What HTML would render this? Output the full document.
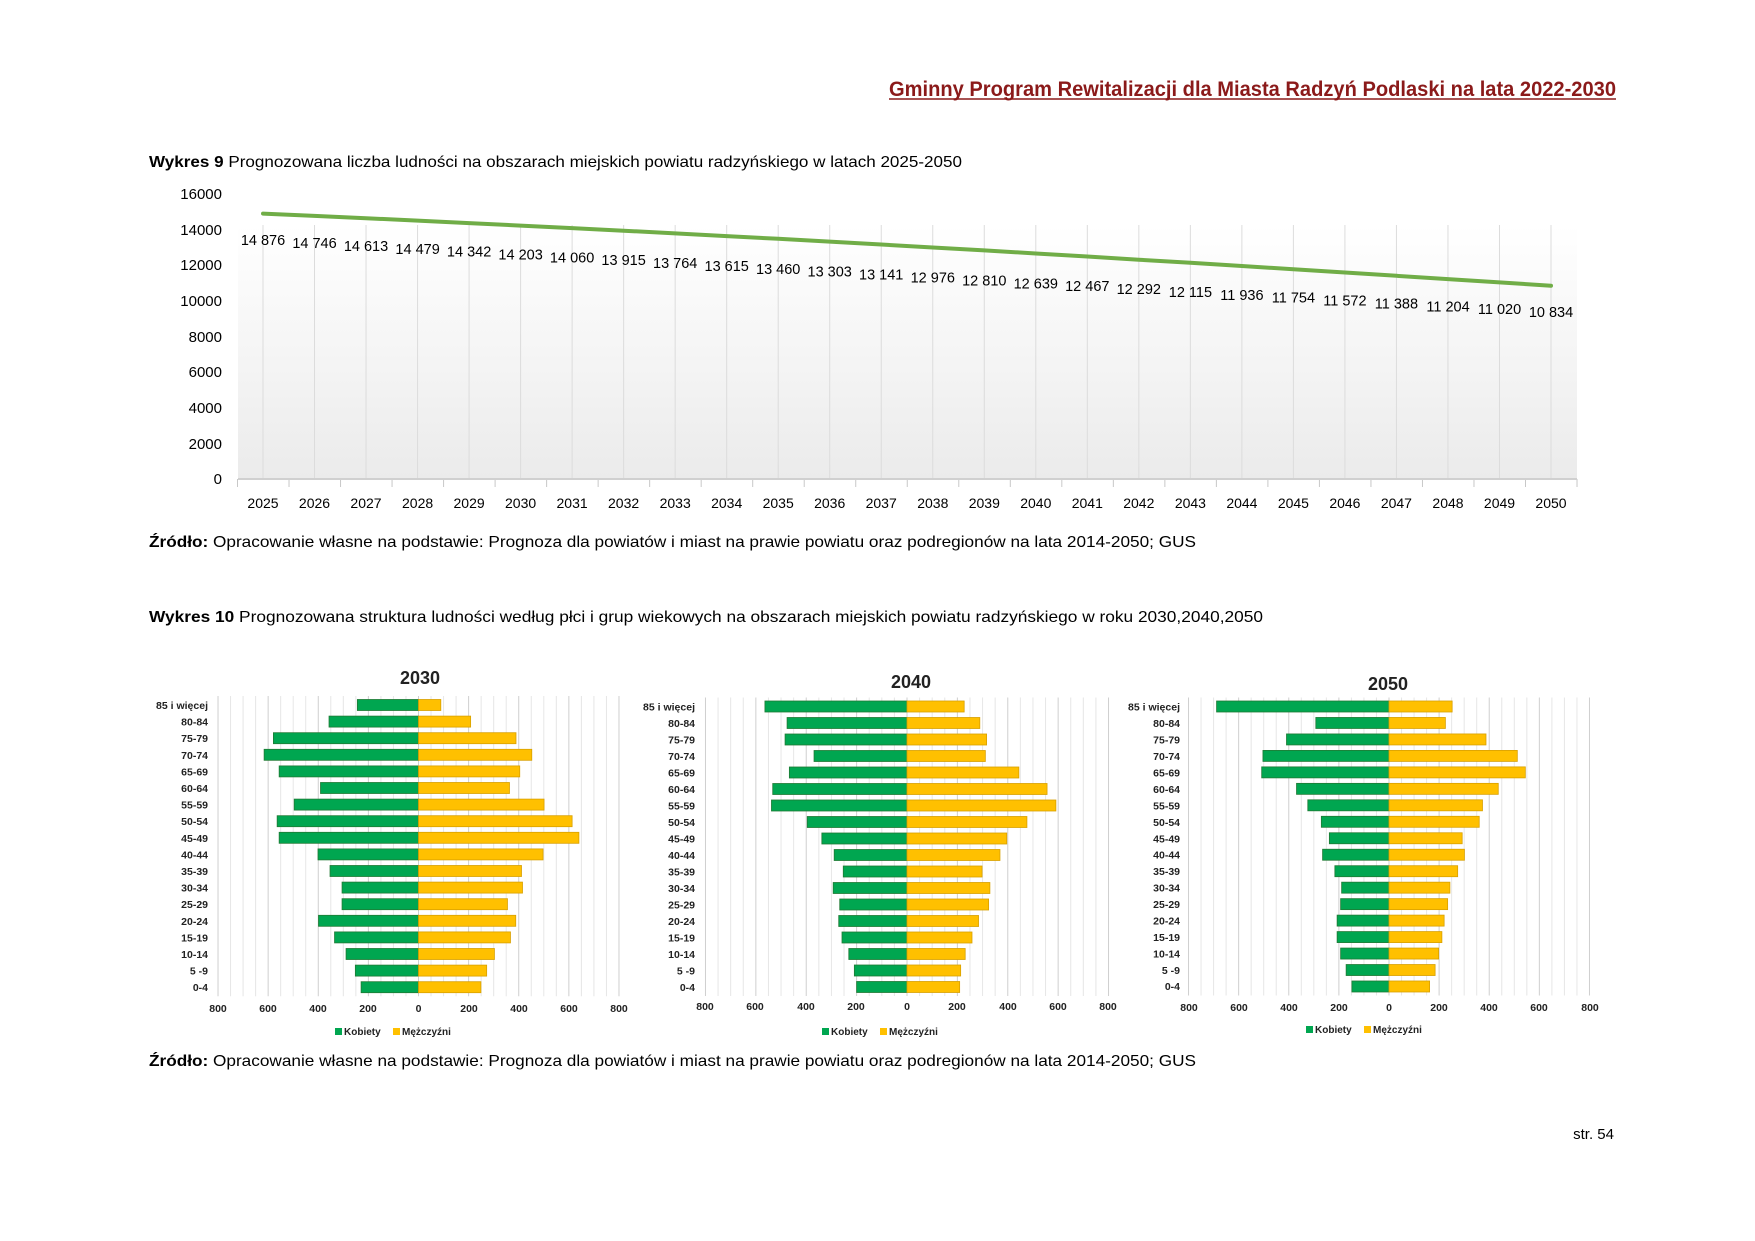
<!DOCTYPE html>
<html><head><meta charset="utf-8"><style>
html,body{margin:0;padding:0;background:#fff}
svg{display:block}
</style></head><body>
<svg id="s" width="1755" height="1241" viewBox="0 0 1755 1241" xmlns="http://www.w3.org/2000/svg" font-family="Liberation Sans, sans-serif">
<defs>
<linearGradient id="bg" x1="0" y1="0" x2="0" y2="1">
<stop offset="0" stop-color="#ffffff"/><stop offset="1" stop-color="#ebebeb"/>
</linearGradient>
</defs>
<text x="889" y="96" font-size="21" font-weight="bold" fill="#8b1a1a" textLength="727" lengthAdjust="spacingAndGlyphs">Gminny Program Rewitalizacji dla Miasta Radzyń Podlaski na lata 2022-2030</text>
<line x1="889" y1="99" x2="1616" y2="99" stroke="#8b1a1a" stroke-width="1.5"/>
<text x="149" y="167" font-size="16" textLength="813" lengthAdjust="spacingAndGlyphs"><tspan font-weight="bold">Wykres 9</tspan> Prognozowana liczba ludności na obszarach miejskich powiatu radzyńskiego w latach 2025-2050</text>

<rect x="238" y="225" width="1339" height="254" fill="url(#bg)"/>
<g id="vg" stroke="#dcdcdc" stroke-width="1"></g>
<line x1="238" y1="479" x2="1577" y2="479" stroke="#d0d0d0" stroke-width="2"/>
<g font-size="15" text-anchor="end">
<text x="222" y="199">16000</text><text x="222" y="235">14000</text><text x="222" y="270">12000</text><text x="222" y="306">10000</text><text x="222" y="342">8000</text><text x="222" y="377">6000</text><text x="222" y="413">4000</text><text x="222" y="449">2000</text><text x="222" y="484">0</text>
</g>
<g font-size="14" text-anchor="middle">
<text x="263" y="508">2025</text><text x="314.5" y="508">2026</text><text x="366" y="508">2027</text><text x="417.6" y="508">2028</text><text x="469.1" y="508">2029</text><text x="520.6" y="508">2030</text><text x="572.1" y="508">2031</text><text x="623.6" y="508">2032</text><text x="675.2" y="508">2033</text><text x="726.7" y="508">2034</text><text x="778.2" y="508">2035</text><text x="829.7" y="508">2036</text><text x="881.2" y="508">2037</text><text x="932.8" y="508">2038</text><text x="984.3" y="508">2039</text><text x="1035.8" y="508">2040</text><text x="1087.3" y="508">2041</text><text x="1138.8" y="508">2042</text><text x="1190.4" y="508">2043</text><text x="1241.9" y="508">2044</text><text x="1293.4" y="508">2045</text><text x="1344.9" y="508">2046</text><text x="1396.4" y="508">2047</text><text x="1448" y="508">2048</text><text x="1499.5" y="508">2049</text><text x="1551" y="508">2050</text>
</g>
<polyline id="ln" fill="none" stroke="#70ad47" stroke-width="4" stroke-linecap="round"/>
<g font-size="14.5" text-anchor="middle">
<text x="263" y="245">14 876</text><text x="314.5" y="248">14 746</text><text x="366" y="251">14 613</text><text x="417.6" y="254">14 479</text><text x="469.1" y="256.5">14 342</text><text x="520.6" y="259.4">14 203</text><text x="572.1" y="262.3">14 060</text><text x="623.6" y="265.2">13 915</text><text x="675.2" y="268.1">13 764</text><text x="726.7" y="271">13 615</text><text x="778.2" y="273.9">13 460</text><text x="829.7" y="276.7">13 303</text><text x="881.2" y="279.6">13 141</text><text x="932.8" y="282.5">12 976</text><text x="984.3" y="285.4">12 810</text><text x="1035.8" y="288.3">12 639</text><text x="1087.3" y="291.2">12 467</text><text x="1138.8" y="294">12 292</text><text x="1190.4" y="296.9">12 115</text><text x="1241.9" y="299.8">11 936</text><text x="1293.4" y="302.7">11 754</text><text x="1344.9" y="305.6">11 572</text><text x="1396.4" y="308.5">11 388</text><text x="1448" y="311.4">11 204</text><text x="1499.5" y="314.2">11 020</text><text x="1551" y="317.1">10 834</text>
</g>
<text x="149" y="547" font-size="16" textLength="1047" lengthAdjust="spacingAndGlyphs"><tspan font-weight="bold">Źródło:</tspan> Opracowanie własne na podstawie: Prognoza dla powiatów i miast na prawie powiatu oraz podregionów na lata 2014-2050; GUS</text>
<text x="149" y="622" font-size="16" textLength="1114" lengthAdjust="spacingAndGlyphs"><tspan font-weight="bold">Wykres 10</tspan> Prognozowana struktura ludności według płci i grup wiekowych na obszarach miejskich  powiatu radzyńskiego w roku 2030,2040,2050</text>

<g id="pyr"></g>

<g font-weight="bold" text-anchor="middle" font-size="18" fill="#222">
<text x="420" y="684">2030</text><text x="911" y="688">2040</text><text x="1388" y="690">2050</text>
</g>
<g font-size="10.5" font-weight="bold" text-anchor="end" fill="#222">
<text x="208" y="709">85 i więcej</text><text x="208" y="725.6">80-84</text><text x="208" y="742.2">75-79</text><text x="208" y="758.8">70-74</text><text x="208" y="775.4">65-69</text><text x="208" y="792">60-64</text><text x="208" y="808.6">55-59</text><text x="208" y="825.2">50-54</text><text x="208" y="841.8">45-49</text><text x="208" y="858.4">40-44</text><text x="208" y="875">35-39</text><text x="208" y="891.6">30-34</text><text x="208" y="908.2">25-29</text><text x="208" y="924.8">20-24</text><text x="208" y="941.4">15-19</text><text x="208" y="958">10-14</text><text x="208" y="974.6">5 -9</text><text x="208" y="991">0-4</text>
</g>
<g font-size="10.5" font-weight="bold" text-anchor="end" fill="#222">
<text x="695" y="710.5">85 i więcej</text><text x="695" y="727">80-84</text><text x="695" y="743.5">75-79</text><text x="695" y="760">70-74</text><text x="695" y="776.5">65-69</text><text x="695" y="793">60-64</text><text x="695" y="809.5">55-59</text><text x="695" y="826">50-54</text><text x="695" y="842.5">45-49</text><text x="695" y="859">40-44</text><text x="695" y="875.5">35-39</text><text x="695" y="892">30-34</text><text x="695" y="908.5">25-29</text><text x="695" y="925">20-24</text><text x="695" y="941.5">15-19</text><text x="695" y="958">10-14</text><text x="695" y="974.5">5 -9</text><text x="695" y="991">0-4</text>
</g>
<g font-size="10.5" font-weight="bold" text-anchor="end" fill="#222">
<text x="1180" y="710.5">85 i więcej</text><text x="1180" y="727">80-84</text><text x="1180" y="743.4">75-79</text><text x="1180" y="759.9">70-74</text><text x="1180" y="776.4">65-69</text><text x="1180" y="792.8">60-64</text><text x="1180" y="809.3">55-59</text><text x="1180" y="825.8">50-54</text><text x="1180" y="842.3">45-49</text><text x="1180" y="858.7">40-44</text><text x="1180" y="875.2">35-39</text><text x="1180" y="891.7">30-34</text><text x="1180" y="908.1">25-29</text><text x="1180" y="924.6">20-24</text><text x="1180" y="941.1">15-19</text><text x="1180" y="957.5">10-14</text><text x="1180" y="974">5 -9</text><text x="1180" y="990">0-4</text>
</g>
<g font-size="10.5" font-weight="bold" text-anchor="middle" fill="#222">
<text x="218" y="1012">800</text><text x="268" y="1012">600</text><text x="318" y="1012">400</text><text x="368" y="1012">200</text><text x="418.5" y="1012">0</text><text x="469" y="1012">200</text><text x="519" y="1012">400</text><text x="569" y="1012">600</text><text x="619" y="1012">800</text>
<text x="705" y="1010">800</text><text x="755" y="1010">600</text><text x="806" y="1010">400</text><text x="856" y="1010">200</text><text x="907" y="1010">0</text><text x="957" y="1010">200</text><text x="1008" y="1010">400</text><text x="1058" y="1010">600</text><text x="1108" y="1010">800</text>
<text x="1189" y="1011">800</text><text x="1239" y="1011">600</text><text x="1289" y="1011">400</text><text x="1339" y="1011">200</text><text x="1389" y="1011">0</text><text x="1439" y="1011">200</text><text x="1489" y="1011">400</text><text x="1539" y="1011">600</text><text x="1590" y="1011">800</text>
</g>
<g font-size="10" font-weight="bold" fill="#222">
<rect x="335" y="1028" width="7" height="7" fill="#00a650"/><text x="344" y="1035">Kobiety</text>
<rect x="393" y="1028" width="7" height="7" fill="#ffc000"/><text x="402" y="1035">Mężczyźni</text>
<rect x="822" y="1028" width="7" height="7" fill="#00a650"/><text x="831" y="1035">Kobiety</text>
<rect x="880" y="1028" width="7" height="7" fill="#ffc000"/><text x="889" y="1035">Mężczyźni</text>
<rect x="1306" y="1026" width="7" height="7" fill="#00a650"/><text x="1315" y="1033">Kobiety</text>
<rect x="1364" y="1026" width="7" height="7" fill="#ffc000"/><text x="1373" y="1033">Mężczyźni</text>
</g>
<text x="149" y="1066" font-size="16" textLength="1047" lengthAdjust="spacingAndGlyphs"><tspan font-weight="bold">Źródło:</tspan> Opracowanie własne na podstawie: Prognoza dla powiatów i miast na prawie powiatu oraz podregionów na lata 2014-2050; GUS</text>
<text x="1614" y="1139" font-size="15" text-anchor="end">str. 54</text>
</svg>
<script>
var NS="http://www.w3.org/2000/svg";
function el(p,t,a){var e=document.createElementNS(NS,t);for(var k in a)e.setAttribute(k,a[k]);p.appendChild(e);return e;}
var vg=document.getElementById("vg");
var vals=[14876,14746,14613,14479,14342,14203,14060,13915,13764,13615,13460,13303,13141,12976,12810,12639,12467,12292,12115,11936,11754,11572,11388,11204,11020,10834];
var pts=[];
for(var i=0;i<26;i++){var x=263+51.52*i;el(vg,"line",{x1:x,y1:225,x2:x,y2:479});pts.push(x+","+(479-vals[i]*0.017844).toFixed(1));}
for(var i=0;i<=26;i++){var x=237.5+51.52*i;el(vg,"line",{x1:x,y1:479,x2:x,y2:487,stroke:"#c8c8c8"});}
document.getElementById("ln").setAttribute("points",pts.join(" "));
var P=[
{z:418.5,s:0.2506,y0:705,st:16.6,
w:[244,357,579,616,556,391,496,564,556,401,353,305,305,399,335,289,252,229],
m:[89,208,389,452,404,363,501,613,640,497,411,415,355,388,367,303,272,249]},
{z:907,s:0.2519,y0:706.5,st:16.5,
w:[564,476,484,369,467,533,538,396,338,289,253,293,267,271,258,231,209,200],
m:[227,289,316,311,444,556,591,476,396,369,298,329,324,284,258,231,213,209]},
{z:1389,s:0.2506,y0:706.5,st:16.47,
w:[688,292,409,503,508,369,324,270,238,265,216,189,193,207,207,193,171,148],
m:[252,225,387,512,544,436,373,360,292,301,274,243,234,220,211,198,184,162]}];
var g=document.getElementById("pyr");
P.forEach(function(c){
 var top=c.y0-9,bot=c.y0+17*c.st+9;
 for(var u=-800;u<=800;u+=50){var x=c.z+u*c.s;el(g,"line",{x1:x,y1:top,x2:x,y2:bot,stroke:(u%200==0)?"#cfcfcf":"#e6e6e6","stroke-width":1});}
 for(var r=0;r<18;r++){var y=c.y0+r*c.st-5.5;
  el(g,"rect",{x:c.z-c.w[r]*c.s,y:y,width:c.w[r]*c.s,height:11,fill:"#00a650",stroke:"#1f7a34","stroke-width":0.8});
  el(g,"rect",{x:c.z,y:y,width:c.m[r]*c.s,height:11,fill:"#ffc000",stroke:"#d8a000","stroke-width":0.8});}
});
</script>
</body></html>
